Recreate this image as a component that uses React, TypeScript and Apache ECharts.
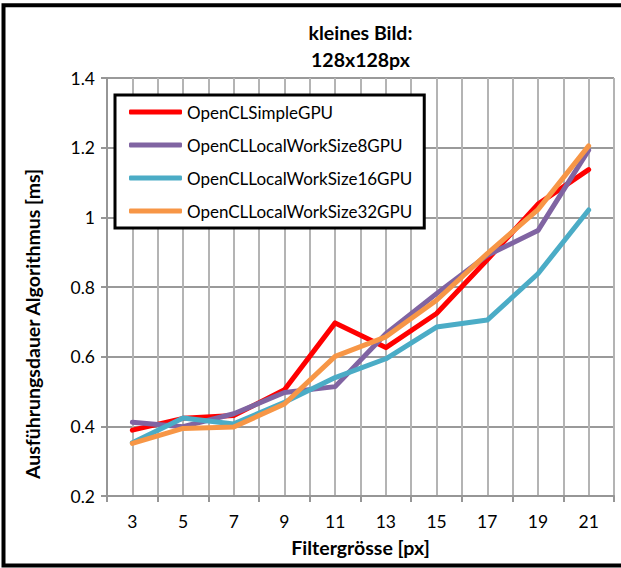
import React, { useEffect, useRef } from "react";
import * as echarts from "echarts";

const filterSizes = [3, 5, 7, 9, 11, 13, 15, 17, 19, 21];
const seriesNames = [
  "OpenCLSimpleGPU",
  "OpenCLLocalWorkSize8GPU",
  "OpenCLLocalWorkSize16GPU",
  "OpenCLLocalWorkSize32GPU",
];
const simpleGPU = [0.389, 0.423, 0.431, 0.505, 0.697, 0.626, 0.724, 0.878, 1.038, 1.137];
const local8GPU = [0.412, 0.399, 0.436, 0.497, 0.514, 0.666, 0.781, 0.891, 0.962, 1.193];
const local16GPU = [0.353, 0.424, 0.407, 0.469, 0.540, 0.594, 0.685, 0.705, 0.838, 1.021];
const local32GPU = [0.351, 0.394, 0.398, 0.464, 0.601, 0.657, 0.762, 0.896, 1.022, 1.205];
const colors = ["#FF0000", "#8064A2", "#4BACC6", "#F79646"];
const yTicks = { min: 0.2, max: 1.4, interval: 0.2 };
const xRange = { min: 2, max: 22 };
const titleLines = ["kleines Bild:", "128x128px"];
const xTitle = "Filtergrösse [px]";
const yTitle = "Ausführungsdauer Algorithmus [ms]";

const FONT = "Lato, 'Open Sans', sans-serif";

export default function App() {
  const ref = useRef<HTMLDivElement>(null);
  useEffect(() => {
    document.body.style.margin = "0";
    const chart = echarts.init(ref.current!, undefined, { renderer: "svg" });
    const allData = [simpleGPU, local8GPU, local16GPU, local32GPU];
    const boldText = (text: string, x: number, y: number, rotation = 0) => ({
      type: "text",
      x,
      y,
      rotation,
      style: {
        text,
        fontFamily: FONT,
        fontSize: 19.5,
        fontWeight: "bold",
        fill: "#000",
        textAlign: "center",
        textVerticalAlign: "middle",
      },
    });
    chart.setOption({
      animation: false,
      backgroundColor: "#ffffff",
      textStyle: { fontFamily: FONT },
      grid: { left: 107, right: 7, top: 78, bottom: 72, containLabel: false },
      legend: {
        orient: "vertical",
        left: 115,
        top: 95,
        data: seriesNames,
        icon: "roundRect",
        itemWidth: 53,
        itemHeight: 5,
        itemGap: 13,
        padding: [7, 12, 7, 14],
        backgroundColor: "#ffffff",
        borderColor: "#000000",
        borderWidth: 3,
        borderRadius: 0,
        textStyle: { fontFamily: FONT, fontSize: 17, color: "#000", lineHeight: 20, padding: [0, 0, 0, 0] },
        itemStyle: { borderWidth: 0 },
        selectedMode: false,
      },
      xAxis: [
        {
          type: "value",
          min: xRange.min,
          max: xRange.max,
          interval: 1,
          axisLine: { show: false },
          axisTick: { show: false },
          splitLine: { show: true, lineStyle: { color: "#b4b4b4", width: 2 } },
          axisLabel: {
            fontFamily: FONT,
            fontSize: 17.5,
            color: "#000",
            margin: 16,
            showMinLabel: true,
            showMaxLabel: true,
            formatter: (v: number) => (filterSizes.includes(v) ? String(v) : ""),
          },
        },
        {
          type: "value",
          min: xRange.min,
          max: xRange.max,
          interval: 2,
          position: "bottom",
          axisLine: { show: true, onZero: false, lineStyle: { color: "#969696", width: 2 } },
          axisTick: { show: true, length: 6, lineStyle: { color: "#969696", width: 2 } },
          splitLine: { show: false },
          axisLabel: { show: false },
        },
      ],
      yAxis: {
        type: "value",
        min: yTicks.min,
        max: yTicks.max,
        interval: yTicks.interval,
        axisLine: { show: true, lineStyle: { color: "#969696", width: 2 } },
        axisTick: { show: true, length: 6, lineStyle: { color: "#969696", width: 2 } },
        splitLine: { show: true, lineStyle: { color: "#9a9a9a", width: 2 } },
        axisLabel: { fontFamily: FONT, fontSize: 17.5, color: "#000", margin: 12 },
      },
      series: allData.map((vals, i) => ({
        name: seriesNames[i],
        type: "line",
        xAxisIndex: 0,
        data: vals.map((v, j) => [filterSizes[j], v]),
        showSymbol: false,
        symbol: "none",
        color: colors[i],
        lineStyle: { color: colors[i], width: 5, join: "round", cap: "round" },
        z: 3 + i,
      })),
      graphic: [
        {
          type: "rect",
          shape: { x: 3.5, y: 5.3, width: 700, height: 560.2 },
          style: { fill: "none", stroke: "#000", lineWidth: 4 },
          z: 100,
          silent: true,
        },
        boldText(titleLines[0], 360.5, 32),
        boldText(titleLines[1], 360.5, 59),
        boldText(xTitle, 360.5, 547),
        boldText(yTitle, 32, 324, Math.PI / 2),
      ],
    });
    return () => chart.dispose();
  }, []);
  return (
    <div
      ref={ref}
      style={{ position: "fixed", left: 0, top: 0, width: 621, height: 568 }}
    />
  );
}
